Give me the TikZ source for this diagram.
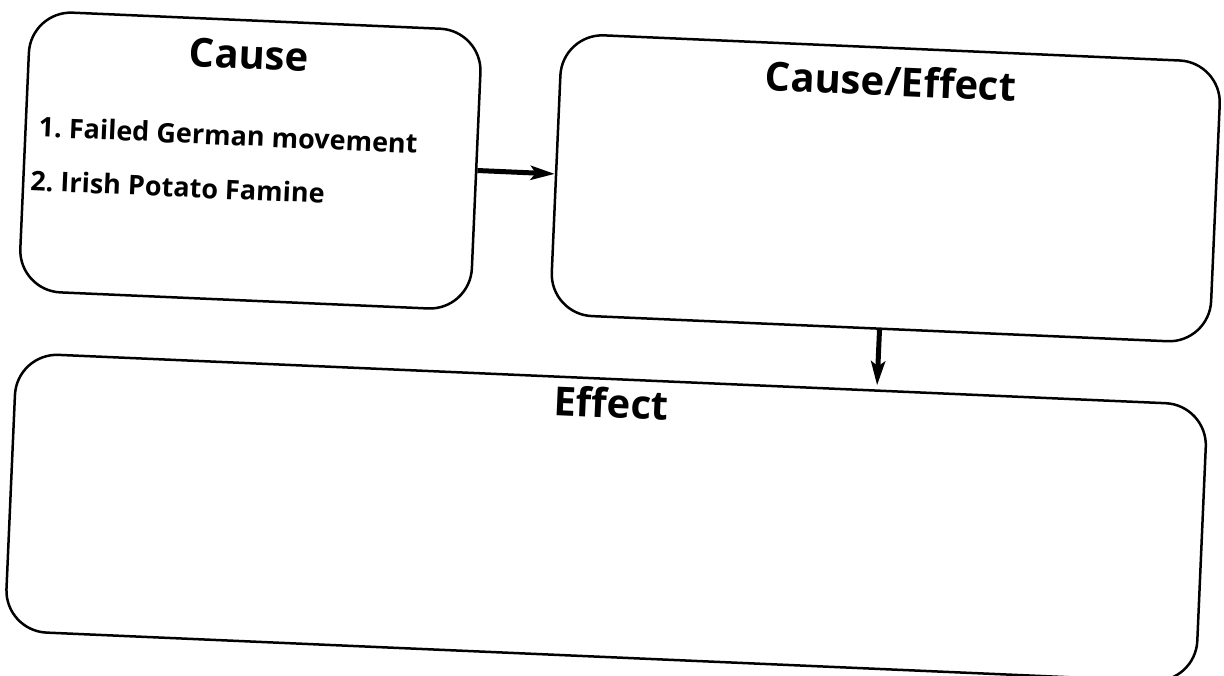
\documentclass[tikz,border=0pt]{standalone}
\usepackage{fontspec}
\setmainfont{Open Sans}
\usetikzlibrary{arrows.meta, positioning}

\begin{document}
\begin{tikzpicture}[x=1pt, y=1pt,
    box/.style={draw, line width=2.5pt, rounded corners=42pt, inner sep=0pt},
    heading/.style={font=\fontsize{40}{48}\selectfont\bfseries},
    item/.style={font=\fontsize{27}{32}\selectfont\bfseries\frenchspacing, anchor=west, inner sep=0pt},
    flow/.style={-{Stealth[length=24pt, width=14pt, inset=5pt]}, line width=5pt}]

    \useasboundingbox (0,0) rectangle (1224,675);

    % the whole sheet sits a little askew
    \begin{scope}[rotate around={-2.5:(612,337.5)}, transform shape]

        % ==========================================
        % 1. Cause
        % ==========================================
        \node[box, minimum width=452pt, minimum height=280pt] (cause) at (243,498.5) {};
        \node[heading] (causetitle) at (237,604) {Cause};
        \node[item] (firstcause) at (30,523) {1. Failed German movement};
        \node[item] (secondcause) at (24,469) {2. Irish Potato Famine};

        % ==========================================
        % 2. Cause/Effect
        % ==========================================
        \node[box, minimum width=660pt, minimum height=281pt] (both) at (879,498.5) {};
        \node[heading] (bothtitle) at (879.5,606) {Cause/Effect};

        % ==========================================
        % 3. Effect
        % ==========================================
        \node[box, minimum width=1192pt, minimum height=278pt] (effect) at (614,157) {};
        \node[heading] (effecttitle) at (614,272) {Effect};

        % arrows between the boxes
        \draw[flow] (cause.east) -- (both.west);
        \draw[flow, shorten >=4pt] (both.south) -- (both.south |- effect.north);

    \end{scope}

\end{tikzpicture}
\end{document}
